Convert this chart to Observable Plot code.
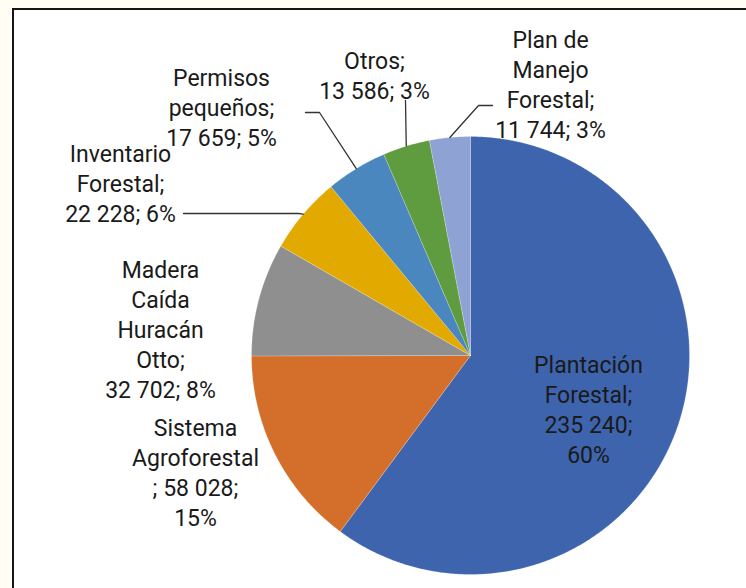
<!DOCTYPE html>
<html>
<head>
<meta charset="utf-8">
<script src="https://cdn.jsdelivr.net/npm/d3@7"></script>
<script src="https://cdn.jsdelivr.net/npm/@observablehq/plot@0.6"></script>
<style>
  html, body { margin: 0; padding: 0; background: #FFFDF4; }
  #wrap { position: relative; width: 746px; height: 588px; overflow: hidden; background: #FFFDF4; }
  #frame { position: absolute; left: 12px; top: 8px; width: 760px; height: 620px; background: #ffffff; border: 2px solid #151515; }
  #chart { position: absolute; left: 0; top: 0; }
  #chart svg { background: transparent; }
</style>
</head>
<body>
<div id="wrap"><div id="frame"></div><div id="chart"></div></div>
<script>
// ---- data ----
const categories = ["Plantación Forestal", "Sistema Agroforestal", "Madera Caída Huracán Otto", "Inventario Forestal", "Permisos pequeños", "Otros", "Plan de Manejo Forestal"];
const values = [235240, 58028, 32702, 22228, 17659, 13586, 11744];
const colors = ["#3D64AD", "#D36E2B", "#8F8F8F", "#E2AA00", "#4A87BE", "#5F9B3F", "#8FA2D4"];

// ---- layout (label wrapping and placement, pixel space) ----
const wrappedNames = ["Plantación\nForestal", "Sistema\nAgroforestal", "Madera\nCaída\nHuracán\nOtto", "Inventario\nForestal", "Permisos\npequeños", "Otros", "Plan de\nManejo\nForestal"];
const breakBeforeSemi = [false, true, false, false, false, false, false];
const breakBeforePct = [true, true, false, false, false, false, false];
const labelX = [588, 195, 160, 120, 221, 374, 550];
const labelY = [408, 471, 328, 182, 106, 74, 83];
// leader line bends/ends (after the rim point), null = no leader
const leaderPts = [null, null, null, [[298, 213], [183, 213]], [[319, 112], [305, 112]], [[405, 100]], [[478, 105], [492, 105]]];
const cx = 470, cy = 355, R = 219;

const fmt = d3.formatLocale({decimal: ",", thousands: " ", grouping: [3], currency: ["", ""]}).format(",d");
const total = d3.sum(values);

// slice polygons
const slices = [];
const mids = [];
let acc = 0;
values.forEach((v, i) => {
  const a0 = acc / total * 2 * Math.PI;
  acc += v;
  const a1 = acc / total * 2 * Math.PI;
  mids.push((a0 + a1) / 2);
  const n = Math.max(2, Math.ceil((a1 - a0) / (Math.PI / 360)));
  slices.push({name: categories[i], x: cx, y: cy});
  for (let k = 0; k <= n; k++) {
    const a = a0 + (a1 - a0) * k / n;
    slices.push({name: categories[i], x: cx + R * Math.sin(a), y: cy - R * Math.cos(a)});
  }
  slices.push({name: categories[i], x: cx, y: cy});
});

// labels
const labels = values.map((v, i) => {
  const pct = Math.round(v / total * 100) + "%";
  const text = wrappedNames[i] + (breakBeforeSemi[i] ? "\n; " : ";\n") + fmt(v) + ";" + (breakBeforePct[i] ? "\n" : " ") + pct;
  return {name: categories[i], x: labelX[i], y: labelY[i], text};
});

// leader lines
const leaders = [];
leaderPts.forEach((pts, i) => {
  if (!pts) return;
  const a = mids[i];
  leaders.push({name: categories[i], x: cx + R * Math.sin(a), y: cy - R * Math.cos(a)});
  pts.forEach(([x, y]) => leaders.push({name: categories[i], x, y}));
});

const chart = Plot.plot({
  width: 746,
  height: 588,
  margin: 0,
  x: {domain: [0, 746], range: [0, 746], axis: null},
  y: {domain: [0, 588], range: [0, 588], axis: null},
  color: {domain: categories, range: colors},
  style: {background: "transparent", fontFamily: "Roboto, 'Liberation Sans', sans-serif"},
  marks: [
    Plot.line(slices, {x: "x", y: "y", z: "name", fill: "name", stroke: "#ffffff", strokeOpacity: 0.35, strokeWidth: 0.6}),
    Plot.line(leaders, {x: "x", y: "y", z: "name", stroke: "#333333", strokeWidth: 1.3}),
    Plot.text(labels, {x: "x", y: "y", text: "text", fontSize: 23, lineHeight: 1.3, lineAnchor: "middle", textAnchor: "middle", fill: "#1a1a1a"})
  ]
});
document.getElementById("chart").appendChild(chart);
</script>
</body>
</html>
